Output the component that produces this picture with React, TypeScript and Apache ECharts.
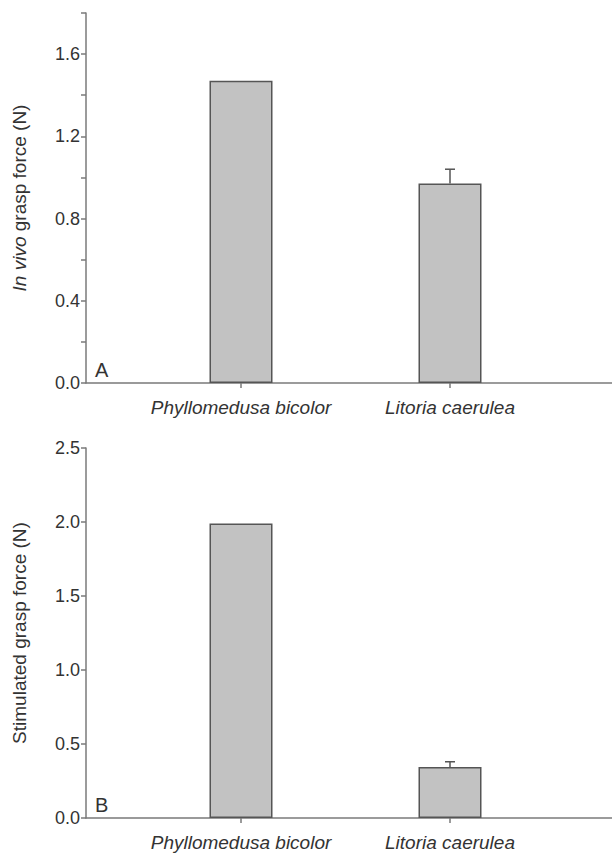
import React, { useEffect, useRef } from "react";
import * as echarts from "echarts";

const species = ["Phyllomedusa bicolor", "Litoria caerulea"];
const inVivoMeans = [1.47, 0.97];
const inVivoErrors = [0, 0.07];
const stimMeans = [1.99, 0.345];
const stimErrors = [0, 0.035];
const panelLetters = ["A", "B"];

const FONT = "Liberation Sans, Arial, sans-serif";
const AXIS_COLOR = "#7a7a7a";
const TEXT_COLOR = "#333333";

function errorSeries(xIdx: number, yIdx: number, means: number[], errs: number[]) {
  const data = means
    .map((m, i) => [i, m, errs[i]])
    .filter((d) => (d[2] as number) > 0);
  return {
    type: "custom",
    xAxisIndex: xIdx,
    yAxisIndex: yIdx,
    z: 5,
    data,
    renderItem: (params: any, api: any) => {
      const x = api.value(0);
      const m = api.value(1);
      const e = api.value(2);
      const p0 = api.coord([x, m]);
      const p1 = api.coord([x, m + e]);
      const half = 5;
      return {
        type: "group",
        children: [
          {
            type: "line",
            shape: { x1: p0[0], y1: p0[1], x2: p1[0], y2: p1[1] },
            style: { stroke: "#555555", lineWidth: 1.5 },
          },
          {
            type: "line",
            shape: { x1: p1[0] - half, y1: p1[1], x2: p1[0] + half, y2: p1[1] },
            style: { stroke: "#555555", lineWidth: 1.5 },
          },
        ],
      };
    },
  };
}

export default function App() {
  const ref = useRef<HTMLDivElement>(null);
  useEffect(() => {
    if (!ref.current) return;
    const chart = echarts.init(ref.current, null, { renderer: "svg" });
    const gridTops = [13, 448];
    const gridH = 370;
    const grids: any[] = [];
    const xAxes: any[] = [];
    const yAxes: any[] = [];
    const yCfg = [
      {
        max: 1.8,
        interval: 0.2,
        fmt: (v: number) => (Math.round(v * 10) % 4 === 0 ? v.toFixed(1) : ""),
        name: "{i|In vivo} grasp force (N)",
      },
      {
        max: 2.5,
        interval: 0.5,
        fmt: (v: number) => v.toFixed(1),
        name: "Stimulated grasp force (N)",
      },
    ];
    gridTops.forEach((top, p) => {
      grids.push({ left: 86, right: 0, top, height: gridH });
      grids.push({ left: 136.5, width: 418, top, height: gridH });
      xAxes.push({
        type: "value",
        gridIndex: p * 2,
        min: 0,
        max: 1,
        axisLine: { show: true, lineStyle: { color: AXIS_COLOR, width: 1.5 } },
        axisTick: { show: false },
        axisLabel: { show: false },
        splitLine: { show: false },
      });
      xAxes.push({
        type: "category",
        gridIndex: p * 2 + 1,
        data: species,
        axisLine: { show: false },
        axisTick: {
          show: true,
          alignWithLabel: true,
          length: 5,
          lineStyle: { color: AXIS_COLOR, width: 1.5 },
        },
        axisLabel: {
          interval: 0,
          fontFamily: FONT,
          fontSize: 19,
          fontStyle: "italic",
          color: TEXT_COLOR,
          margin: 15,
        },
      });
      yAxes.push({
        type: "value",
        gridIndex: p * 2,
        min: 0,
        max: yCfg[p].max,
        interval: yCfg[p].interval,
        axisLine: { show: true, lineStyle: { color: AXIS_COLOR, width: 1.5 } },
        axisTick: { show: true, length: 5, lineStyle: { color: AXIS_COLOR, width: 1.5 } },
        axisLabel: {
          formatter: yCfg[p].fmt,
          fontFamily: FONT,
          fontSize: 18,
          color: TEXT_COLOR,
          margin: 6,
        },
        splitLine: { show: false },
        name: yCfg[p].name,
        nameLocation: "middle",
        nameRotate: 90,
        nameGap: 57,
        nameTextStyle: {
          fontFamily: FONT,
          fontSize: 19,
          color: TEXT_COLOR,
          rich: {
            i: { fontFamily: FONT, fontSize: 19, fontStyle: "italic", color: TEXT_COLOR },
          },
        },
      });
      yAxes.push({
        type: "value",
        gridIndex: p * 2 + 1,
        min: 0,
        max: yCfg[p].max,
        show: false,
        splitLine: { show: false },
      });
    });

    const barStyle = { color: "#c2c2c2", borderColor: "#555555", borderWidth: 1.5 };

    chart.setOption({
      animation: false,
      backgroundColor: "#ffffff",
      grid: grids,
      xAxis: xAxes,
      yAxis: yAxes,
      series: [
        {
          type: "bar",
          xAxisIndex: 1,
          yAxisIndex: 1,
          data: inVivoMeans,
          barWidth: 63,
          itemStyle: barStyle,
        },
        errorSeries(1, 1, inVivoMeans, inVivoErrors),
        {
          type: "bar",
          xAxisIndex: 3,
          yAxisIndex: 3,
          data: stimMeans,
          barWidth: 63,
          itemStyle: barStyle,
        },
        errorSeries(3, 3, stimMeans, stimErrors),
      ],
      graphic: [
        {
          type: "text",
          left: 95,
          top: 360,
          style: { text: panelLetters[0], fontFamily: FONT, fontSize: 20, fill: TEXT_COLOR },
        },
        {
          type: "text",
          left: 95,
          top: 795,
          style: { text: panelLetters[1], fontFamily: FONT, fontSize: 20, fill: TEXT_COLOR },
        },
      ],
    });
    return () => chart.dispose();
  }, []);
  return (
    <div
      ref={ref}
      style={{ position: "fixed", left: 0, top: 0, width: 612, height: 864, background: "#fff" }}
    />
  );
}
